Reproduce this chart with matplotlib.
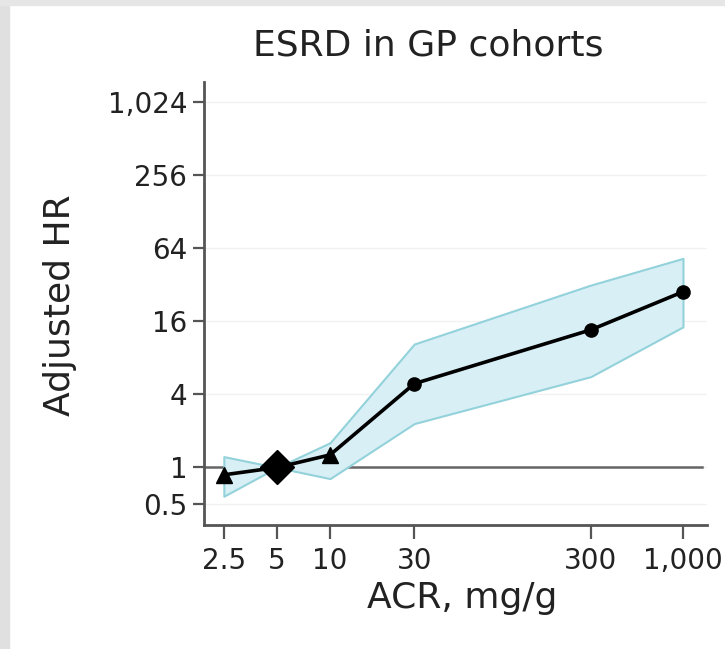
import matplotlib
matplotlib.use("Agg")
import matplotlib.pyplot as plt
from matplotlib.patches import Rectangle

# Data (ACR categories, adjusted HR with CI band)
acr = [2.5, 5, 10, 30, 300, 1000]
hr = [0.87, 1.0, 1.27, 4.9, 13.6, 28.0]
hr_low = [0.58, 1.0, 0.81, 2.3, 5.6, 14.4]
hr_high = [1.23, 1.0, 1.6, 10.4, 31.8, 52.8]
marker_kind = ["^", "D", "^", "o", "o", "o"]

xtick_vals = [2.5, 5, 10, 30, 300, 1000]
xtick_labels = ["2.5", "5", "10", "30", "300", "1,000"]
ytick_vals = [0.5, 1, 4, 16, 64, 256, 1024]
ytick_labels = ["0.5", "1", "4", "16", "64", "256", "1,024"]

plt.rcParams["font.family"] = "DejaVu Sans"
text_col = "#222222"
axis_col = "#555555"

fig = plt.figure(figsize=(7.25, 6.49), dpi=100)
fig.patch.set_facecolor("white")

# light gray frame on the left and top edge
fig.patches.append(Rectangle((0, 0), 9 / 725, 1, transform=fig.transFigure,
                             color="#e0e0e0", zorder=0))
fig.patches.append(Rectangle((0, 1 - 5 / 649), 1, 5 / 649, transform=fig.transFigure,
                             color="#e6e6e6", zorder=0))

ax = fig.add_axes([204 / 725, 1 - 525 / 649, 503 / 725, 443 / 649])
ax.set_xscale("log")
ax.set_yscale("log")
ax.set_xlim(1.93, 1368)
ax.set_ylim(0.336, 1497)

# faint gridlines
for v in ytick_vals:
    ax.axhline(v, color="#f1f1f1", lw=1.0, zorder=0)

# reference line at HR = 1
ax.axhline(1, xmin=0, xmax=0.99, color="#666666", lw=1.8, zorder=1)

# confidence band
ax.fill_between(acr, hr_low, hr_high, facecolor="#d8eff6", edgecolor="#93d2da",
                lw=1.5, zorder=2)

# main line and markers
ax.plot(acr, hr, color="black", lw=2.6, zorder=3)
sizes = {"^": 11, "D": 17, "o": 9.5}
for x, y, m in zip(acr, hr, marker_kind):
    ax.plot([x], [y], marker=m, ms=sizes[m], color="black", ls="none", zorder=4)

ax.minorticks_off()
ax.set_xticks(xtick_vals)
ax.set_xticklabels(xtick_labels)
ax.set_yticks(ytick_vals)
ax.set_yticklabels(ytick_labels)
ax.tick_params(axis="x", length=10, width=1.6, color=axis_col, labelsize=20,
               labelcolor=text_col, pad=6)
ax.tick_params(axis="y", length=8, width=1.6, color=axis_col, labelsize=20,
               labelcolor=text_col, pad=4)

for side in ["top", "right"]:
    ax.spines[side].set_visible(False)
for side in ["left", "bottom"]:
    ax.spines[side].set_color(axis_col)
    ax.spines[side].set_linewidth(2)

fig.text(428 / 725, 1 - 45 / 649, "ESRD in GP cohorts", ha="center", va="center",
         fontsize=26, color=text_col)
fig.text(60 / 725, 1 - 305 / 649, "Adjusted HR", ha="center", va="center",
         rotation=90, fontsize=26, color=text_col)
fig.text(462 / 725, 1 - 598 / 649, "ACR, mg/g", ha="center", va="center",
         fontsize=26, color=text_col)

fig.savefig("out.png", dpi=100)
